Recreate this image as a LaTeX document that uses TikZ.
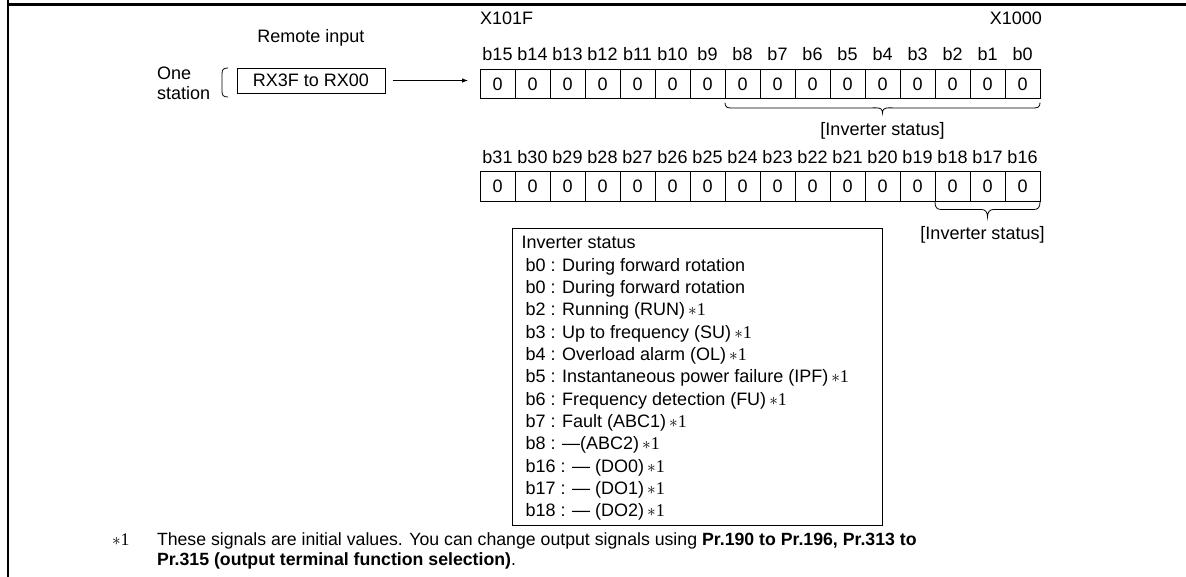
\documentclass[tikz,border=0pt]{standalone}
\usepackage{fontspec}
\setmainfont{Liberation Sans}
\newfontfamily\serif{Liberation Serif}
\usetikzlibrary{arrows.meta,calc}
\newcommand{\astone}{\,{\serif$\ast$1}}
\begin{document}
\begin{tikzpicture}[x=1pt,y=-1pt,
  every node/.style={inner sep=0pt,outer sep=0pt},
  txt/.style={font=\fontsize{18}{22}\selectfont,anchor=base},
  boxtxt/.style={font=\fontsize{18}{22}\selectfont,anchor=base west},
  foot/.style={font=\fontsize{17.7}{21}\selectfont,anchor=base west},
  cell/.style={draw,line width=0.9pt,minimum width=35pt,minimum height=29.7pt,font=\fontsize{18}{22}\selectfont},
  frame/.style={line width=2.5pt},
  thin/.style={line width=0.8pt}]
\useasboundingbox (0,0) rectangle (1186,577);
% frame
\coordinate (ftl) at (8,4.5);
\coordinate (ftr) at (1186,4.5);
\coordinate (fbl) at (8,577);
\coordinate (ftop) at (8,0);
\draw[frame] (ftl) -- (ftr);
\draw[frame] (ftop) -- (fbl);
% left part
\node[txt] (remote) at (311,43) {Remote input};
\node[txt,anchor=base west] (one) at (157,80) {One};
\node[txt,anchor=base west] (station) at (157,100) {station};
\node[draw,thin,minimum width=148pt,minimum height=25pt,font=\fontsize{18}{22}\selectfont] (rx) at (311,80.5) {RX3F to RX00};
\coordinate (brt) at (228,68);
\coordinate (brb) at (228,97);
\draw[thin] (brt) .. controls (223,68) and (222,70) .. (222,74) -- (222,91) .. controls (222,95) and (223,97) .. (brb);
% cells
\foreach \i in {0,...,15}{
  \pgfmathtruncatemacro{\n}{15-\i}
  \pgfmathtruncatemacro{\m}{31-\i}
  \node[cell] (a\i) at ({497.5+35*\i},83.85) {0};
  \node[cell] (c\i) at ({497.5+35*\i},186.35) {0};
  \node[txt] (la\i) at ($(a\i.north)+(0,-8)$) {b\n};
  \node[txt] (lc\i) at ($(c\i.north)+(0,-8)$) {b\m};
}
\node[txt,anchor=base west] (x101f) at (480,25) {X101F};
\node[txt,anchor=base east] (x1000) at (1042,25) {X1000};
\draw[thin,-{Latex[length=6pt,width=4.5pt]},shorten <=8pt,shorten >=12pt] (rx.east) -- (rx.east -| a0.west);
% brace row 1
\coordinate (b1l) at ($(a7.south west)+(0,4)$);
\coordinate (b1r) at ($(a15.south east)+(0,4)$);
\coordinate (b1m) at ($(b1l)!0.5!(b1r)+(0,10.5)$);
\draw[thin] (b1l) .. controls ($(b1l)+(0,4)$) and ($(b1l)+(2,5.3)$) .. ($(b1l)+(6,5.3)$)
  -- ($(b1m)+(-6,-5.3)$) .. controls ($(b1m)+(-2,-5.3)$) and ($(b1m)+(0,-4)$) .. (b1m)
  .. controls ($(b1m)+(0,-4)$) and ($(b1m)+(2,-5.3)$) .. ($(b1m)+(6,-5.3)$)
  -- ($(b1r)+(-6,5.3)$) .. controls ($(b1r)+(-2,5.3)$) and ($(b1r)+(0,4)$) .. (b1r);
\node[txt] (inv1) at ($(b1m)+(0,22)$) {[Inverter status]};
% brace row 2
\coordinate (b2l) at ($(c13.south west)+(0,1)$);
\coordinate (b2r) at ($(c15.south east)+(0,1)$);
\coordinate (b2m) at ($(b2l)!0.5!(b2r)+(0,15)$);
\draw[thin] (b2l) .. controls ($(b2l)+(0,5)$) and ($(b2l)+(2,7.3)$) .. ($(b2l)+(6,7.3)$)
  -- ($(b2m)+(-6,-7.7)$) .. controls ($(b2m)+(-2,-7.7)$) and ($(b2m)+(0,-5)$) .. (b2m)
  .. controls ($(b2m)+(0,-5)$) and ($(b2m)+(2,-7.7)$) .. ($(b2m)+(6,-7.7)$)
  -- ($(b2r)+(-6,7.3)$) .. controls ($(b2r)+(-2,7.3)$) and ($(b2r)+(0,5)$) .. (b2r);
\node[txt] (inv2) at ($(b2m)+(-5,22)$) {[Inverter status]};
% inverter status box
\node[draw,thin,anchor=north west,minimum width=370pt,minimum height=297pt] (box) at (512,228.5) {};
\node[boxtxt] (t0) at (521.5,249) {Inverter status};
\foreach \k/\s in {1/{b0 : During forward rotation},
                  2/{b0 : During forward rotation},
                  3/{b2 : Running (RUN)\astone},
                  4/{b3 : Up to frequency (SU)\astone},
                  5/{b4 : Overload alarm (OL)\astone},
                  6/{b5 : Instantaneous power failure (IPF)\astone},
                  7/{b6 : Frequency detection (FU)\astone},
                  8/{b7 : Fault (ABC1)\astone},
                  9/{b8 : —(ABC2)\astone},
                  10/{b16 : — (DO0)\astone},
                  11/{b17 : — (DO1)\astone},
                  12/{b18 : — (DO2)\astone}}{
  \node[boxtxt] (t\k) at (525.5,{249+22.3*\k}) {\s};
}
% footnote
\node[foot] (fmark) at (112,545) {\serif$\ast$1};
\node[foot] (f1) at (157,545) {These signals are initial values. You can change output signals using \textbf{Pr.190 to Pr.196, Pr.313 to}};
\node[foot] (f2) at (157,565) {\textbf{Pr.315 (output terminal function selection)}.};
\end{tikzpicture}
\end{document}
